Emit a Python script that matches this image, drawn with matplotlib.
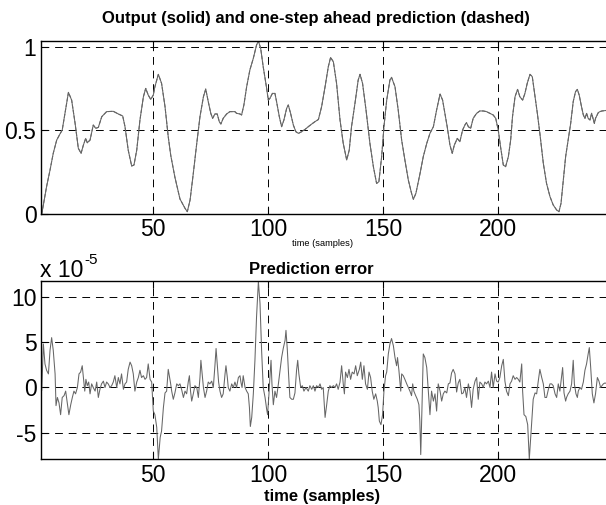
import matplotlib.pyplot as plt

plt.rcParams['font.family'] = ['Liberation Sans', 'DejaVu Sans']

# output signal (sample, value)
out_t = [1.5, 3.6, 5.1, 6.5, 8.0, 9.4, 10.4, 11.6, 13.1, 14.5, 16.0, 17.4, 18.6, 19.6,
         20.6, 21.3, 22.5, 23.9, 25.0, 26.1, 27.6, 29.7, 32.6, 34.8, 36.7, 37.7, 39.1,
         40.6, 41.6, 42.8, 44.2, 45.7, 46.7, 47.8, 48.9, 50.0, 50.7, 52.2, 53.6, 55.1,
         56.5, 57.6, 59.4, 61.6, 63.8, 64.8, 66.0, 67.4, 68.9, 70.3, 71.8, 72.8, 73.9,
         75.0, 75.8, 76.8, 77.8, 78.7, 79.4, 80.4, 81.9, 83.3, 85.5, 86.2, 87.7, 88.4,
         89.4, 90.6, 92.0, 93.5, 94.9, 95.7, 96.7, 97.8, 99.3, 100.0, 100.7, 101.8,
         102.9, 103.6, 104.8, 105.8, 106.8, 108.0, 108.7, 109.7, 110.9, 112.0, 113.1,
         114.5, 116.0, 117.4, 118.9, 120.3, 121.8, 123.2, 124.7, 126.1, 127.1, 128.3,
         129.7, 131.2, 132.6, 134.1, 135.2, 136.2, 137.7, 139.1, 139.9, 141.0, 142.5,
         144.2, 145.7, 147.1, 148.1, 149.3, 150.3, 151.5, 152.9, 153.6, 155.1, 156.5,
         158.0, 159.4, 160.9, 162.3, 163.1, 164.2, 166.0, 167.4, 168.9, 170.3, 171.8,
         173.2, 174.7, 175.8, 176.8, 177.8, 179.0, 180.0, 180.9, 182.2, 183.3, 184.5,
         185.5, 186.2, 187.0, 188.0, 189.1, 190.6, 192.0, 193.5, 194.9, 196.4, 197.8,
         198.9, 200.0, 201.0, 202.2, 203.2, 204.4, 205.4, 206.2, 207.3, 208.4, 209.4,
         210.6, 211.6, 212.6, 213.8, 214.8, 216.0, 217.0, 218.1, 219.6, 221.0, 222.5,
         223.9, 225.4, 226.4, 227.3, 228.3, 229.3, 230.4, 231.5, 232.6, 233.6, 234.4,
         235.2, 236.2, 237.0, 237.7, 238.4, 239.1, 239.9, 240.6, 241.8, 242.3, 243.5,
         244.2, 245.1, 247.5]
out_y = [0.0, 0.164, 0.263, 0.363, 0.442, 0.478, 0.502, 0.602, 0.727, 0.681, 0.542,
         0.393, 0.363, 0.412, 0.452, 0.426, 0.442, 0.532, 0.512, 0.518, 0.582, 0.612,
         0.614, 0.598, 0.586, 0.522, 0.382, 0.287, 0.293, 0.382, 0.562, 0.701, 0.751,
         0.711, 0.685, 0.711, 0.761, 0.835, 0.781, 0.642, 0.462, 0.35, 0.22, 0.09,
         0.034, 0.014, 0.084, 0.243, 0.422, 0.582, 0.701, 0.747, 0.672, 0.602, 0.572,
         0.598, 0.598, 0.552, 0.538, 0.572, 0.598, 0.612, 0.612, 0.602, 0.598, 0.592,
         0.652, 0.761, 0.861, 0.931, 1.010, 1.034, 0.990, 0.880, 0.751, 0.681, 0.691,
         0.721, 0.721, 0.672, 0.582, 0.522, 0.562, 0.632, 0.652, 0.602, 0.532, 0.492,
         0.482, 0.492, 0.506, 0.522, 0.538, 0.552, 0.565, 0.642, 0.761, 0.880, 0.936,
         0.910, 0.781, 0.562, 0.422, 0.323, 0.382, 0.522, 0.662, 0.801, 0.835, 0.781,
         0.622, 0.422, 0.283, 0.183, 0.193, 0.343, 0.522, 0.681, 0.801, 0.817, 0.761,
         0.622, 0.442, 0.323, 0.203, 0.124, 0.088, 0.124, 0.243, 0.343, 0.422, 0.482,
         0.522, 0.622, 0.717, 0.681, 0.602, 0.522, 0.412, 0.363, 0.412, 0.452, 0.432,
         0.502, 0.532, 0.546, 0.522, 0.512, 0.572, 0.602, 0.616, 0.616, 0.612, 0.602,
         0.592, 0.572, 0.502, 0.402, 0.293, 0.283, 0.343, 0.442, 0.582, 0.701, 0.745,
         0.701, 0.681, 0.721, 0.781, 0.835, 0.821, 0.701, 0.602, 0.482, 0.303, 0.183,
         0.104, 0.054, 0.024, 0.014, 0.064, 0.203, 0.343, 0.442, 0.542, 0.672, 0.731,
         0.745, 0.711, 0.642, 0.592, 0.572, 0.602, 0.572, 0.562, 0.602, 0.542, 0.572,
         0.606, 0.612, 0.616, 0.62]

# prediction error in units of 1e-5 (sample, value)
err_t = [1.5, 2.2, 2.9, 3.6, 4.4, 5.1, 5.8, 6.5, 7.3, 7.7, 8.3, 9.0, 9.7, 10.4, 11.2,
         11.9, 12.6, 13.3, 14.1, 14.8, 15.5, 16.2, 17.0, 17.7, 18.4, 19.1, 19.6, 20.2,
         20.7, 21.3, 21.9, 22.5, 23.2, 23.9, 24.7, 25.4, 26.1, 26.8, 27.5, 28.3, 29.0,
         29.7, 30.4, 31.2, 31.9, 32.6, 33.3, 34.1, 34.8, 35.5, 36.2, 37.0, 37.7, 38.4,
         39.1, 39.9, 40.6, 41.3, 42.0, 42.8, 43.5, 44.2, 44.9, 45.7, 46.4, 47.1, 47.8,
         48.6, 49.3, 50.0, 50.7, 51.5, 52.2, 53.0, 53.6, 54.4, 55.1, 55.8, 56.5, 57.5,
         58.0, 58.7, 59.4, 60.2, 60.9, 61.6, 62.3, 63.1, 63.8, 64.5, 65.2, 65.7, 66.2,
         66.7, 67.4, 68.1, 68.9, 69.6, 70.3, 70.7, 71.3, 71.8, 72.5, 73.2, 73.9, 74.6,
         75.4, 76.1, 76.8, 77.3, 77.8, 78.4, 79.0, 79.7, 80.4, 81.2, 81.6, 82.2, 82.6,
         83.3, 84.1, 84.8, 85.5, 86.2, 87.0, 87.7, 88.1, 88.6, 89.1, 89.9, 90.6, 91.3,
         91.8, 92.2, 92.8, 93.5, 94.2, 94.9, 95.7, 96.4, 97.1, 97.8, 98.6, 99.3, 99.7,
         100.3, 100.7, 101.2, 101.6, 102.2, 102.9, 103.6, 104.4, 105.1, 105.8, 106.5,
         107.3, 107.7, 108.3, 108.9, 109.4, 110.2, 110.9, 111.6, 112.3, 112.8, 113.3,
         114.1, 114.8, 115.5, 116.4, 117.4, 118.1, 118.9, 119.6, 120.3, 121.0, 121.8,
         122.5, 123.2, 123.9, 124.7, 125.4, 126.1, 126.8, 127.5, 128.3, 129.0, 129.7,
         130.4, 131.2, 131.9, 132.6, 133.1, 133.6, 134.4, 135.1, 135.8, 136.5, 137.3,
         138.0, 138.7, 139.6, 140.2, 140.9, 141.6, 142.3, 143.1, 143.8, 144.5, 145.2,
         145.9, 146.7, 147.4, 147.8, 148.3, 149.0, 149.7, 150.3, 151.0, 151.5, 152.2,
         152.9, 153.6, 154.4, 155.1, 155.8, 156.2, 156.8, 157.6, 158.0, 158.7, 159.4,
         160.2, 160.9, 161.6, 162.3, 162.8, 163.3, 164.1, 164.8, 165.5, 165.9, 166.3,
         166.8, 167.4, 168.1, 168.9, 169.6, 170.3, 171.0, 171.8, 172.5, 173.2, 173.9,
         174.7, 175.4, 176.1, 176.8, 177.6, 178.3, 179.0, 179.7, 180.4, 181.2, 181.9,
         182.6, 183.3, 184.1, 184.8, 185.5, 186.2, 187.0, 187.7, 188.4, 189.1, 189.9,
         190.6, 191.3, 192.0, 192.8, 193.5, 194.2, 194.9, 195.7, 196.4, 197.1, 197.8,
         198.6, 199.3, 200.0, 200.7, 201.5, 202.2, 202.9, 203.6, 204.4, 205.1, 205.8,
         206.5, 207.3, 208.0, 208.7, 209.4, 210.2, 210.6, 211.2, 212.0, 212.8, 213.5,
         214.1, 214.7, 215.2, 216.0, 216.7, 217.4, 218.1, 218.9, 219.6, 220.3, 221.0,
         221.8, 222.5, 223.2, 223.9, 224.7, 225.4, 226.1, 226.8, 227.6, 228.0, 228.6,
         229.3, 229.7, 230.4, 231.2, 231.9, 232.6, 233.1, 233.8, 234.4, 234.8, 235.5,
         236.2, 237.0, 237.7, 238.4, 239.1, 239.6, 240.2, 240.9, 241.6, 242.3, 243.1,
         243.8, 244.5, 245.1, 245.7, 246.4, 247.5]
err_y = [-0.3, 4.8, 2.6, 1.9, 1.5, 4.1, 5.5, 4.1, 1.5, -2.0, -1.1, -1.7, -3.0, -1.1, -0.9,
         -0.4, -1.7, -3.0, -1.9, -1.1, -0.4, -0.7, 0.0, 1.5, 1.7, 2.4, 1.1, -0.4,
         0.9, 0.2, 0.6, -0.7, 0.4, 0.0, -0.4, 0.6, -1.1, -0.2, 0.4, 0.7, 0.0,
         0.6, 0.4, 0.0, 0.2, 0.6, 1.3, 0.0, 1.1, 0.4, 1.5, -0.2, 0.4, 0.6,
         2.0, 2.8, 2.4, 1.5, -0.4, 0.6, 1.1, 1.9, 1.1, 1.3, 0.9, 1.1, 2.6,
         0.9, 0.6, -2.6, -3.0, -4.4, -7.9, -5.5, -4.8, -2.2, -0.6, -0.4, 2.0, 0.5,
         -0.4, -1.3, -0.6, 0.4, 0.2, 0.4, -0.2, -1.1, -0.4, -0.7, 0.6, 1.3, -0.4,
         -1.5, -0.7, 0.2, 0.0, -1.1, 1.1, 3.0, 1.3, 0.0, -1.1, -0.4, 0.6, 0.4,
         0.7, 0.0, 2.4, 4.3, 2.6, 0.6, -0.4, -1.1, -0.7, 1.5, 2.4, 1.1, 0.0,
         -0.4, 0.4, 0.0, 0.6, 0.0, 1.1, 1.3, 0.6, 0.0, 1.3, 0.0, -0.4, -0.7,
         -2.2, -4.3, -3.3, -0.7, 3.0, 7.8, 11.7, 9.3, 4.1, 0.0, -1.1, -2.4, -3.0,
         -0.7, 1.1, 3.0, 0.4, -1.9, -0.4, -1.1, 0.4, 1.9, 3.3, 4.3,
         5.2, 6.3, 4.1, 1.1, -1.1, -1.3, -1.3, -0.6, 1.9, 3.0, 1.5,
         0.0, 0.2, -0.4, 0.0, -0.4, 0.2, -0.2, 0.2, -0.4, 0.2, 0.0,
         0.4, -0.2, 0.0, -3.3, -1.9, -0.4, 0.2, 0.0, 0.2, 0.0, 0.4,
         -0.2, 0.6, 2.4, 0.4, -0.7, 1.7, 1.1, 2.0, 0.9, 1.7, 1.5,
         2.4, 1.3, 2.0, 2.8, 0.9, 2.4, 0.4, -0.2, 1.7, 1.1, -0.4,
         -1.3, -0.7, -1.5, -2.2, -3.7, -4.1, -3.0, -0.4, 1.3, 1.7, 3.7,
         4.8, 5.4, 4.6, 3.3, 2.4, 3.3, 1.9, -0.4, 1.5, 1.3, 0.9,
         0.4, 0.0, -0.4, -0.9, 0.4, -0.4, -0.9, -1.3, -1.9, -3.7, -7.4,
         -2.6, 3.7, 3.3, 2.2, -0.4, -3.0, -0.4, -1.5, -0.7, -2.6, 0.4,
         -0.4, -1.5, -0.7, -0.4, -0.6, 0.4, 0.5, 1.6, 2.0, 1.5, -0.5,
         0.5, 0.9, -0.7, -0.6, 0.0, -1.1, 0.4, -0.4, -2.2, -0.2, 0.7,
         1.1, -1.3, 0.6, 0.4, 0.0, 0.6, 0.4, 0.7, 0.0, 1.7, 0.0,
         1.5, 0.7, 0.6, 1.1, 2.4, 3.1, 0.7, -0.4, -0.9, 0.4, 0.7,
         1.3, 0.9, 1.1, 0.9, 0.6, 2.6, -0.4, -3.0, -3.2, -4.1, -7.9,
         -5.6, -3.3, -1.3, -0.6, -0.7, 0.7, 2.0, 1.1, 0.4, -1.1, -1.1,
         -0.2, 0.4, 0.4, 0.2, -0.7, -1.1, 0.4, -0.4, 1.3, 2.2, -0.6,
         -1.5, -1.1, -0.7, -0.4, 0.4, 3.0, 0.4, -0.7, -1.1, -0.4, 0.0,
         -0.2, 0.6, 1.9, 2.6, 3.7, 4.4, 2.2, -0.7, -1.7, -0.7, 1.1,
         0.7, 0.0, 0.2, 0.4, 0.5, 0.4]

x_ticks = [50, 100, 150, 200]
line_color = '0.4'
grid_style = dict(color='k', linestyle=(0, (8, 6)), linewidth=0.7)


def style_axes(ax):
    ax.tick_params(direction='in', length=5, width=0.8, top=True, right=False,
                   labelsize=16.5, pad=3)
    ax.grid(True, **grid_style)
    ax.set_axisbelow(True)
    for side in ['left', 'bottom', 'top']:
        ax.spines[side].set_linewidth(1.0)
    ax.spines['right'].set_visible(False)
    ax.set_xticks(x_ticks)


fig = plt.figure(figsize=(6.06, 5.05), dpi=100)

ax1 = fig.add_axes([0.067, 0.5762, 0.94, 0.3432])
# solid output with the (practically identical) dashed prediction drawn over it
ax1.plot(out_t, out_y, color=line_color, linewidth=0.75)
ax1.plot(out_t, out_y, color=line_color, linewidth=0.75, linestyle='--')
ax1.set_xlim(1, 248.7)
ax1.set_ylim(0, 1.036)
ax1.set_yticks([0, 0.5, 1])
ax1.set_yticklabels(['0', '0.5', '1'])
style_axes(ax1)

ax2 = fig.add_axes([0.067, 0.0903, 0.94, 0.3539])
ax2.plot(err_t, err_y, color=line_color, linewidth=0.75)
ax2.set_xlim(1, 248.7)
ax2.set_ylim(-7.93, 11.78)
ax2.set_yticks([-5, 0, 5, 10])
ax2.set_yticklabels(['-5', '0', '5', '10'])
style_axes(ax2)

fig.text(316 / 606, 1 - 23 / 505, 'Output (solid) and one-step ahead prediction (dashed)',
         ha='center', va='baseline', fontsize=12, fontweight='bold')
fig.text(322 / 606, 1 - 243 / 505, 'time (samples)', ha='center', va='center', fontsize=6.7)
fig.text(311 / 606, 1 - 274 / 505, 'Prediction error', ha='center', va='baseline',
         fontsize=12, fontweight='bold')
fig.text(40 / 606, 1 - 277 / 505, 'x 10', ha='left', va='baseline', fontsize=16.5)
fig.text(84 / 606, 1 - 264 / 505, '-5', ha='left', va='baseline', fontsize=11)
fig.text(322 / 606, 1 - 497 / 505, 'time (samples)', ha='center', va='center',
         fontsize=12, fontweight='bold')

fig.savefig('out.png', dpi=100)
